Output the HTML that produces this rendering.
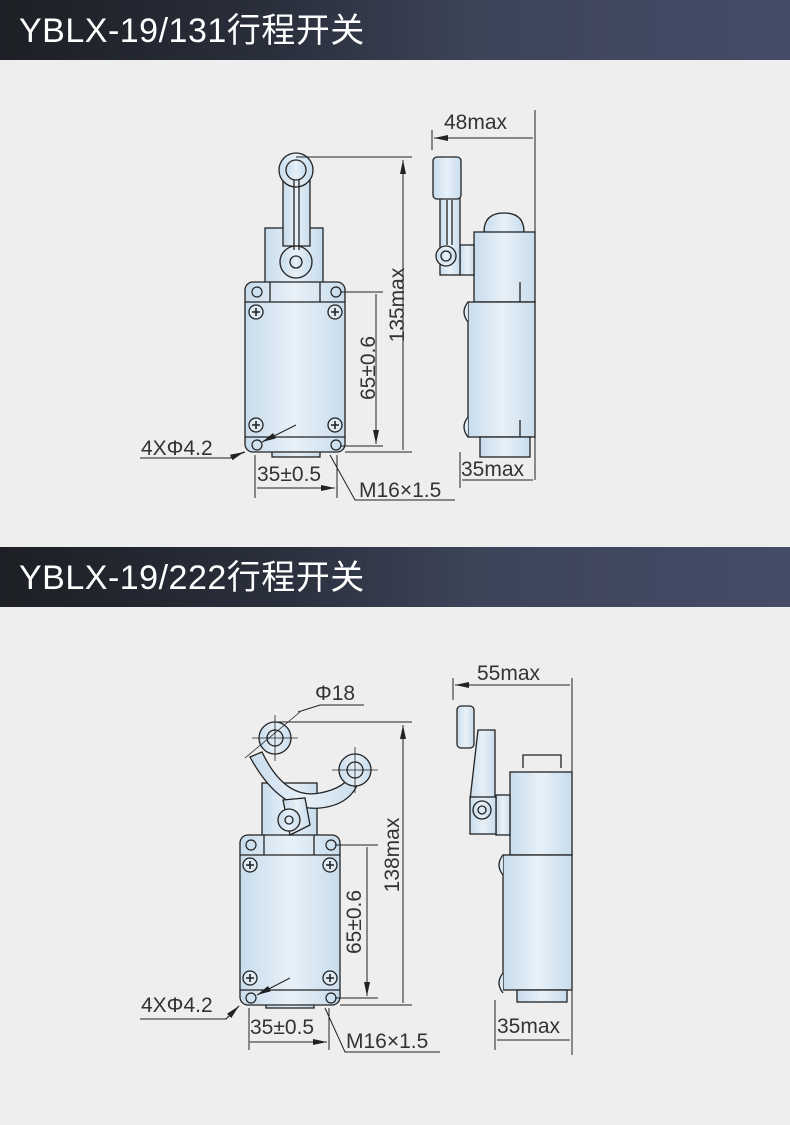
<!DOCTYPE html>
<html><head><meta charset="utf-8"><style>
html,body{margin:0;padding:0;background:#eeeeef;}
.h{position:absolute;left:0;width:790px;height:60px;background:linear-gradient(90deg,#1d1f25 0%,#2a2f3c 35%,#3c4458 60%,#454c68 100%);color:#fff;font-family:"Liberation Sans","Noto Sans CJK SC",sans-serif;font-size:34px;line-height:62px;padding-left:19px;box-sizing:border-box;letter-spacing:0.5px}
svg{position:absolute;left:0;top:0}
</style></head><body>
<div class="h" style="top:0">YBLX-19/131行程开关</div>
<div class="h" style="top:547px">YBLX-19/222行程开关</div>
<svg width="790" height="1125" viewBox="0 0 790 1125" font-family="Liberation Sans, sans-serif">
<defs>
<linearGradient id="g" x1="0" x2="1"><stop offset="0" stop-color="#c8dcec"/><stop offset="0.5" stop-color="#e8f1f8"/><stop offset="1" stop-color="#c8dcec"/></linearGradient>
<marker id="a" viewBox="0 0 14 6" refX="14" refY="3" markerWidth="14" markerHeight="6" orient="auto-start-reverse"><path d="M0,0L14,3L0,6z" fill="#222"/></marker>
<g id="scr"><circle r="7" fill="#dde9f3" stroke="#222" stroke-width="1.3"/><path d="M-4,0H4M0,-4V4" stroke="#222" stroke-width="1.6"/></g>
<g id="hole"><circle r="5" fill="none" stroke="#222" stroke-width="1.2"/></g>
</defs>
<g stroke="#222" stroke-width="1.3" fill="url(#g)">
<rect x="265" y="228" width="58" height="56"/>
<rect x="272" y="437" width="48" height="20"/>
<rect x="245" y="282" width="100" height="170" rx="8"/>
<path d="M245,302H345M270,302V282M320,302V282M245,437H345" fill="none"/>
<path d="M283,172L283,246L310,246L310,172" />
<circle cx="296" cy="170" r="17"/><circle cx="296" cy="170" r="10"/>
<circle cx="296" cy="262" r="16"/><circle cx="296" cy="262" r="6"/>
<path d="M294,180V250M299,180V250" fill="none"/>
</g>
<use href="#scr" x="256" y="312"/><use href="#scr" x="335" y="312"/><use href="#scr" x="256" y="425"/><use href="#scr" x="335" y="425"/>
<use href="#hole" x="257" y="292"/><use href="#hole" x="336" y="292"/><use href="#hole" x="257" y="445"/><use href="#hole" x="336" y="445"/>
<g stroke="#222" stroke-width="1.3" fill="url(#g)">
<path d="M484,232Q484,213 504,213Q524,213 524,232" />
<rect x="474" y="232" width="61" height="70"/>
<rect x="468" y="302" width="67" height="135"/>
<rect x="480" y="437" width="50" height="20"/>
<rect x="460" y="245" width="14" height="30"/>
<rect x="440" y="195" width="20" height="80"/>
<rect x="433" y="157" width="28" height="42" rx="4"/>
<circle cx="446" cy="256" r="10"/><circle cx="446" cy="256" r="5"/>
<path d="M520,282V302M520,437V420M447,200V245M452,200V245" fill="none"/>
<path d="M468,302Q460,312 468,322M468,417Q460,427 468,437" />
</g>
<g stroke="#222" stroke-width="1" fill="none">
<path d="M296,157H412M345,452H412M340,292H383M340,446H383"/>
<path d="M403,160V450M376,294V444" marker-start="url(#a)" marker-end="url(#a)"/>
<path d="M432,130V150M535,110V480"/>
<path d="M434,138H533M462,480H533M257,488H335" marker-start="url(#a)" marker-end="url(#a)"/>
<path d="M460,452V488M255,455V498M337,455V498"/>
<path d="M330,455L355,500H455M140,458H230L245,452"/>
<path d="M296,425L262,442" marker-end="url(#a)"/>
<path d="M230,458L244,452" marker-end="url(#a)"/>
</g>
<g fill="#333" font-size="21">
<text x="444" y="129">48max</text>
<text x="461" y="476" >35max</text>
<text x="257" y="481">35±0.5</text>
<text x="359" y="497">M16×1.5</text>
<text x="141" y="455">4XΦ4.2</text>
<text transform="translate(404,305) rotate(-90)" text-anchor="middle">135max</text>
<text transform="translate(375,368) rotate(-90)" text-anchor="middle">65±0.6</text>
</g>

<g stroke="#222" stroke-width="1.3" fill="url(#g)">
<rect x="262" y="783" width="55" height="55"/>
<rect x="266" y="990" width="48" height="18"/>
<rect x="240" y="835" width="100" height="170" rx="8"/>
<path d="M240,855H340M264,855V835M314,855V835M240,990H340" fill="none"/>
<path d="M262,752Q285,800 320,793Q345,788 350,775L360,778Q352,805 320,808Q280,812 250,757Z"/>
<circle cx="275" cy="738" r="16"/><circle cx="275" cy="738" r="8"/>
<circle cx="355" cy="770" r="16"/><circle cx="355" cy="770" r="8"/>
<path d="M283,800L305,798L310,825L290,835Z"/>
<circle cx="289" cy="820" r="11"/><circle cx="289" cy="820" r="4"/>
</g>
<g stroke="#222" stroke-width="0.8"><path d="M252,738H298M275,715V761M332,770H378M355,747V793M245,758L300,712"/></g>
<use href="#scr" x="250" y="865"/><use href="#scr" x="330" y="865"/><use href="#scr" x="250" y="978"/><use href="#scr" x="330" y="978"/>
<use href="#hole" x="251" y="845"/><use href="#hole" x="331" y="845"/><use href="#hole" x="251" y="998"/><use href="#hole" x="331" y="998"/>
<g stroke="#222" stroke-width="1.3" fill="url(#g)">
<path d="M523,768V755H561V768" fill="none"/>
<rect x="510" y="772" width="62" height="83"/>
<rect x="503" y="855" width="69" height="135"/>
<rect x="517" y="990" width="50" height="12"/>
<rect x="496" y="795" width="14" height="40"/>
<path d="M478,730H495L495,800H470Z"/>
<rect x="457" y="706" width="17" height="42" rx="4"/>
<rect x="470" y="797" width="26" height="37"/>
<circle cx="482" cy="810" r="9"/><circle cx="482" cy="810" r="4"/>
<path d="M503,855Q495,865 503,875M503,973Q495,983 503,993" />
</g>
<g stroke="#222" stroke-width="1" fill="none">
<path d="M275,722H412M340,1005H412M335,845H378M335,998H378"/>
<path d="M403,725V1003M367,847V996" marker-start="url(#a)" marker-end="url(#a)"/>
<path d="M453,678V700M572,678V1055"/>
<path d="M455,685H570M497,1040H570M250,1042H327" marker-start="url(#a)" marker-end="url(#a)"/>
<path d="M495,1000V1050M249,1008V1050M329,1008V1050"/>
<path d="M325,1008L345,1052H440M298,712L320,705H364M140,1019H226L239,1006"/>
<path d="M290,978L257,995" marker-end="url(#a)"/>
<path d="M226,1019L239,1006" marker-end="url(#a)"/>
</g>
<g fill="#333" font-size="21">
<text x="477" y="680">55max</text>
<text x="315" y="700">Φ18</text>
<text x="497" y="1033">35max</text>
<text x="250" y="1034">35±0.5</text>
<text x="346" y="1048">M16×1.5</text>
<text x="141" y="1012">4XΦ4.2</text>
<text transform="translate(399,855) rotate(-90)" text-anchor="middle">138max</text>
<text transform="translate(361,922) rotate(-90)" text-anchor="middle">65±0.6</text>
</g>
</svg>
</body></html>
